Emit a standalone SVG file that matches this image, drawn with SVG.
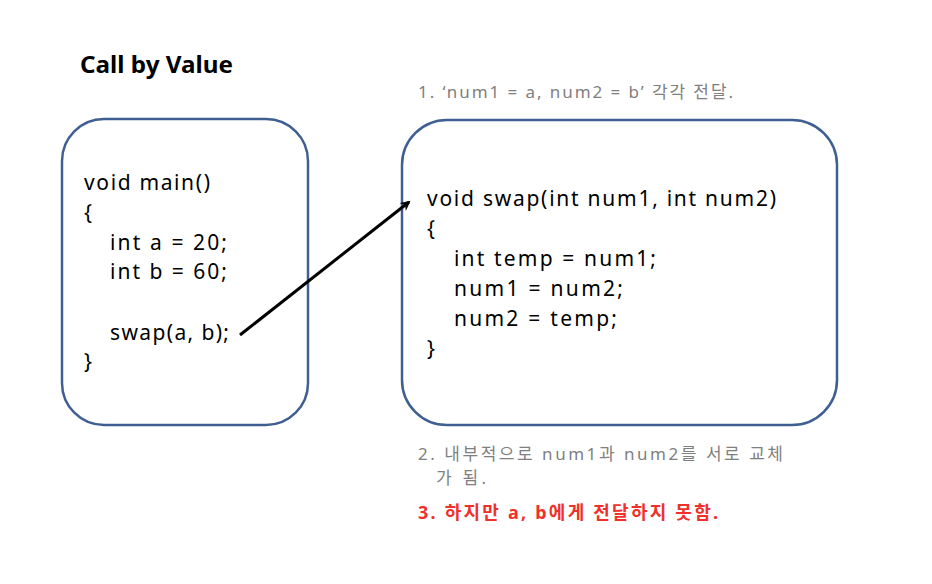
<svg xmlns="http://www.w3.org/2000/svg" width="932" height="584" viewBox="0 0 932 584">
<defs>
<style>
.box{fill:#fff;stroke:#3f5f93;stroke-width:2.5}
.code{font-family:"Noto Sans","Noto Sans CJK KR",sans-serif;font-size:21px;fill:#000}
.note{font-family:"Noto Sans","Noto Sans CJK KR",sans-serif;font-size:17px;fill:#7f7f7f}
.red{font-family:"Noto Sans","Noto Sans CJK KR",sans-serif;font-size:18px;font-weight:bold;fill:#f0302a}
.title{font-family:"Noto Sans","Noto Sans CJK KR",sans-serif;font-size:23px;font-weight:bold;fill:#000}
</style>
<marker id="ah" markerWidth="10" markerHeight="10" refX="8" refY="5" orient="auto" markerUnits="userSpaceOnUse" viewBox="0 0 10 10">
<path d="M0,0 L10,5 L0,10 L3,5 Z" fill="#000"/>
</marker>
</defs>
<rect width="932" height="584" fill="#fff"/>
<text class="title" x="80" y="73" textLength="153" lengthAdjust="spacingAndGlyphs">Call by Value</text>
<g id="main">
<rect class="box" x="62" y="119" width="246" height="306" rx="42"/>
<text class="code" x="84" y="190" textLength="126" lengthAdjust="spacing">void main()</text>
<text class="code" x="84" y="220">{</text>
<text class="code" x="110" y="250" textLength="117" lengthAdjust="spacing">int a = 20;</text>
<text class="code" x="110" y="279" textLength="117" lengthAdjust="spacing">int b = 60;</text>
<text class="code" x="110" y="340" textLength="119" lengthAdjust="spacing">swap(a, b);</text>
<text class="code" x="84" y="369">}</text>
</g>
<g id="swap">
<rect class="box" x="402" y="120" width="435" height="305" rx="45"/>
<text class="code" x="427" y="206" textLength="349" lengthAdjust="spacing">void swap(int num1, int num2)</text>
<text class="code" x="427" y="236">{</text>
<text class="code" x="454" y="266" textLength="202" lengthAdjust="spacing">int temp = num1;</text>
<text class="code" x="454" y="296" textLength="169" lengthAdjust="spacing">num1 = num2;</text>
<text class="code" x="454" y="326" textLength="163" lengthAdjust="spacing">num2 = temp;</text>
<text class="code" x="427" y="356">}</text>
</g>
<g id="connectors">
<line x1="240" y1="335" x2="409" y2="202" stroke="#000" stroke-width="3" marker-end="url(#ah)"/>
</g>
<g id="notes">
<text class="note" x="418" y="98" textLength="315" lengthAdjust="spacing">1. ‘num1 = a, num2 = b’ 각각 전달.</text>
<text class="note" x="418" y="460" textLength="365" lengthAdjust="spacing">2. 내부적으로 num1과 num2를 서로 교체</text>
<text class="note" x="436" y="484" textLength="50" lengthAdjust="spacing">가 됨.</text>
<text class="red" x="418" y="519" textLength="300" lengthAdjust="spacing">3. 하지만 a, b에게 전달하지 못함.</text>
</g>
</svg>
